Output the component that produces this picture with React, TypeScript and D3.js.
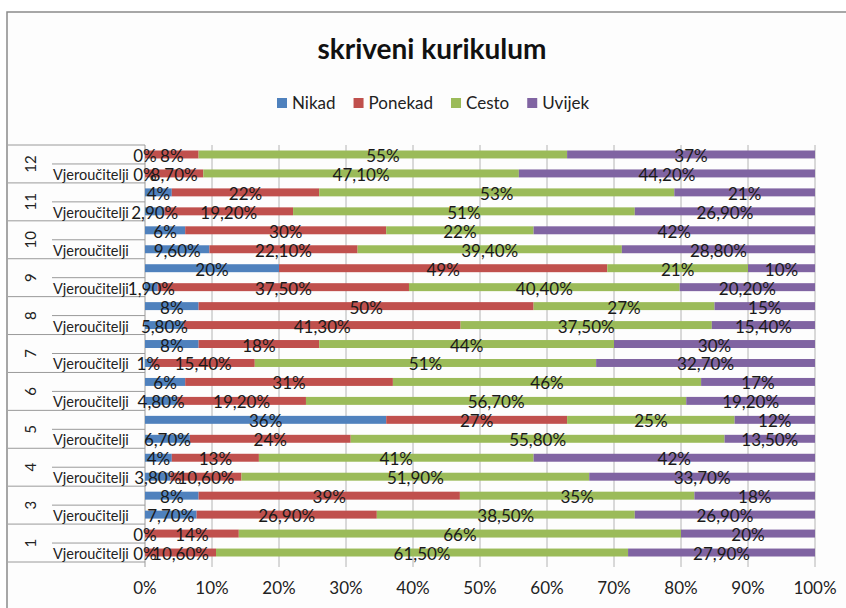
import React, { useRef, useEffect } from "react";
import * as d3 from "d3";

// category groups, top to bottom
const groups = ["12", "11", "10", "9", "8", "7", "6", "5", "4", "3", "1"];
const innerLabels = ["", "Vjeroučitelji"];
const seriesNames = ["Nikad", "Ponekad", "Cesto", "Uvijek"];
const colors = ["#4F81BD", "#C0504D", "#9BBB59", "#8064A2"];

// upper (unlabeled) bar of each group
const upperNikad = [0, 4, 6, 20, 8, 8, 6, 36, 4, 8, 0];
const upperPonekad = [8, 22, 30, 49, 50, 18, 31, 27, 13, 39, 14];
const upperCesto = [55, 53, 22, 21, 27, 44, 46, 25, 41, 35, 66];
const upperUvijek = [37, 21, 42, 10, 15, 30, 17, 12, 42, 18, 20];

// lower bar ("Vjeroučitelji")
const lowerNikad = [0, 2.9, 9.6, 1.9, 5.8, 1, 4.8, 6.7, 3.8, 7.7, 0];
const lowerPonekad = [8.7, 19.2, 22.1, 37.5, 41.3, 15.4, 19.2, 24, 10.6, 26.9, 10.6];
const lowerCesto = [47.1, 51, 39.4, 40.4, 37.5, 51, 56.7, 55.8, 51.9, 38.5, 61.5];
const lowerUvijek = [44.2, 26.9, 28.8, 20.2, 15.4, 32.7, 19.2, 13.5, 33.7, 26.9, 27.9];

const xTicks = [0, 0.1, 0.2, 0.3, 0.4, 0.5, 0.6, 0.7, 0.8, 0.9, 1];

const FONT = "Lato, 'Open Sans', sans-serif";

const fmt = (v: number) =>
  Number.isInteger(v) ? `${v}%` : v.toFixed(2).replace(".", ",") + "%";

const App = () => {
  const svgRef = useRef<SVGSVGElement>(null);
  const W = 846;
  const H = 608;

  useEffect(() => {
    const svg = d3.select(svgRef.current);
    svg.selectAll("*").remove();

    const left = 145;
    const right = 815;
    const top = 145;
    const bottom = 562;

    // rows: one object per bar
    const rows: any[] = [];
    groups.forEach((g, i) => {
      rows.push({
        key: g + "-u", group: g, inner: innerLabels[0],
        Nikad: upperNikad[i], Ponekad: upperPonekad[i], Cesto: upperCesto[i], Uvijek: upperUvijek[i],
      });
      rows.push({
        key: g + "-l", group: g, inner: innerLabels[1],
        Nikad: lowerNikad[i], Ponekad: lowerPonekad[i], Cesto: lowerCesto[i], Uvijek: lowerUvijek[i],
      });
    });

    const stacked = d3.stack().keys(seriesNames).offset(d3.stackOffsetExpand)(rows);

    const x = d3.scaleLinear().domain([0, 1]).range([left, right]);
    const y = d3
      .scaleBand()
      .domain(rows.map((r) => r.key))
      .range([top, bottom])
      .paddingInner(0.58)
      .paddingOuter(0.29);
    const step = y.step();

    // chart frame
    svg.append("rect")
      .attr("width", W).attr("height", H).attr("fill", "#ffffff");
    svg.append("rect")
      .attr("x", 7).attr("y", 12).attr("width", W + 10).attr("height", H + 10)
      .attr("fill", "#fdfdfd").attr("stroke", "#8a8a8a").attr("stroke-width", 1.5);

    // title
    svg.append("text")
      .attr("x", 432).attr("y", 59)
      .attr("text-anchor", "middle")
      .attr("font-family", FONT).attr("font-weight", "bold").attr("font-size", 28)
      .attr("fill", "#111")
      .text("skriveni kurikulum");

    // legend
    const legend = svg.append("g");
    let lx = 277;
    seriesNames.forEach((name, i) => {
      legend.append("rect")
        .attr("x", lx).attr("y", 98).attr("width", 10).attr("height", 10)
        .attr("fill", colors[i]);
      const t = legend.append("text")
        .attr("x", lx + 15).attr("y", 109)
        .attr("font-family", FONT).attr("font-size", 17).attr("fill", "#222")
        .text(name);
      const w = (t.node() as SVGTextElement).getComputedTextLength();
      lx += 15 + w + 18;
    });

    // vertical gridlines
    svg.append("g")
      .selectAll("line")
      .data(xTicks)
      .join("line")
      .attr("x1", (d) => x(d)).attr("x2", (d) => x(d))
      .attr("y1", top).attr("y2", bottom + 5)
      .attr("stroke", (d) => (d === 0 ? "#9a9a9a" : "#b4b4b4"))
      .attr("stroke-width", 1);

    // x tick labels
    svg.append("g")
      .selectAll("text")
      .data(xTicks)
      .join("text")
      .attr("x", (d) => x(d)).attr("y", 594)
      .attr("text-anchor", "middle")
      .attr("font-family", FONT).attr("font-size", 17).attr("fill", "#222")
      .text((d) => d3.format(".0%")(d));

    // category axis lines
    const cat = svg.append("g").attr("stroke", "#9a9a9a").attr("stroke-width", 1);
    groups.forEach((g, i) => {
      const yTop = top + i * 2 * step;
      cat.append("line").attr("x1", 8).attr("x2", left).attr("y1", yTop).attr("y2", yTop);
      cat.append("line").attr("x1", 52).attr("x2", left).attr("y1", yTop + step).attr("y2", yTop + step);
    });
    cat.append("line").attr("x1", 8).attr("x2", left).attr("y1", bottom).attr("y2", bottom);

    // inner labels
    svg.append("g")
      .selectAll("text")
      .data(rows.filter((r) => r.inner))
      .join("text")
      .attr("x", 53)
      .attr("y", (r) => (y(r.key) as number) + y.bandwidth() / 2 + 1)
      .attr("dominant-baseline", "central")
      .attr("font-family", FONT).attr("font-size", 14.5).attr("fill", "#222")
      .text((r) => r.inner);

    // outer labels, rotated
    svg.append("g")
      .selectAll("text")
      .data(groups)
      .join("text")
      .attr("transform", (g, i) => `translate(30,${top + i * 2 * step + step}) rotate(-90)`)
      .attr("text-anchor", "middle")
      .attr("dominant-baseline", "central")
      .attr("font-family", FONT).attr("font-size", 15).attr("fill", "#222")
      .text((g) => g);

    // bars
    const layers = svg.append("g")
      .selectAll("g")
      .data(stacked)
      .join("g")
      .attr("fill", (d, i) => colors[i]);

    layers.selectAll("rect")
      .data((d) => d)
      .join("rect")
      .attr("x", (d) => x(d[0]))
      .attr("y", (d: any) => y(d.data.key) as number)
      .attr("width", (d) => x(d[1]) - x(d[0]))
      .attr("height", y.bandwidth());

    // data labels
    const labels = svg.append("g")
      .attr("font-family", FONT).attr("font-size", 17).attr("fill", "#1a1a1a")
      .attr("text-anchor", "middle");
    stacked.forEach((layer) => {
      layer.forEach((d: any) => {
        labels.append("text")
          .attr("x", x((d[0] + d[1]) / 2))
          .attr("y", (y(d.data.key) as number) + y.bandwidth() / 2 + 1)
          .attr("dominant-baseline", "central")
          .text(fmt(d.data[layer.key]));
      });
    });
  }, []);

  return (
    <div>
      <svg
        ref={svgRef}
        width={W}
        height={H}
        style={{ position: "absolute", left: 0, top: 0, display: "block" }}
      ></svg>
    </div>
  );
};

export default App;
